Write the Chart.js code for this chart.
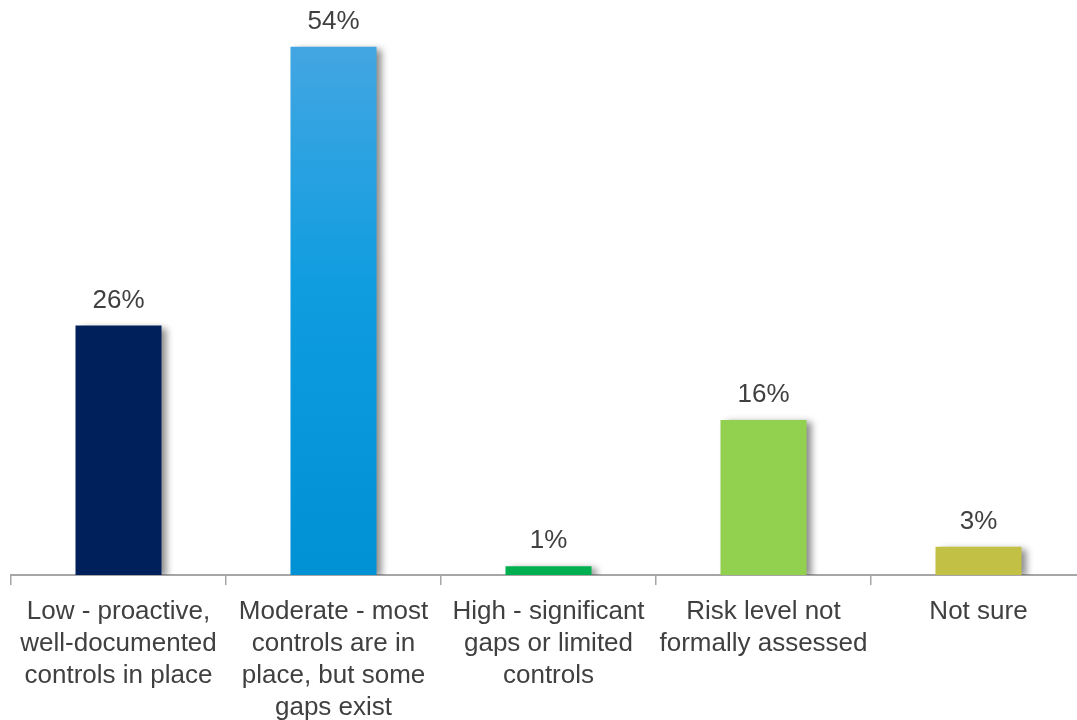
<!DOCTYPE html>
<html>
<head>
<meta charset="utf-8">
<script src="https://cdn.jsdelivr.net/npm/chart.js@4.4.0/dist/chart.umd.min.js"></script>
<style>
  html, body { margin: 0; padding: 0; background: #fff; overflow: hidden; }
  #wrap { width: 1086px; height: 720px; }
</style>
</head>
<body>
<div id="wrap"><canvas id="chart" width="1086" height="720"></canvas></div>
<script>
// Datos del gráfico
const categories = [
    ['Low - proactive,', 'well-documented', 'controls in place'],
    ['Moderate - most', 'controls are in', 'place, but some', 'gaps exist'],
    ['High - significant', 'gaps or limited', 'controls'],
    ['Risk level not', 'formally assessed'],
    ['Not sure']
];
const values = [25.6, 54.2, 0.9, 15.9, 2.9];
const valueLabels = ['26%', '54%', '1%', '16%', '3%'];
const barColors = ['#00205b', 'gradient', '#00b050', '#92d050', '#c3c046'];

const FONT = '"Liberation Sans", Arial, sans-serif';
const ctx = document.getElementById('chart').getContext('2d');

// Sombra detrás de las barras
const shadowPlugin = {
    id: 'barShadow',
    beforeDatasetsDraw(chart) {
        const c = chart.ctx;
        c.save();
        c.shadowColor = 'rgba(0,0,0,0.45)';
        c.shadowBlur = 7;
        c.shadowOffsetX = 5;
        c.shadowOffsetY = 2;
    },
    afterDatasetsDraw(chart) {
        chart.ctx.restore();
    }
};

// Etiquetas de valor encima de cada barra
const valueLabelPlugin = {
    id: 'valueLabels',
    afterDraw(chart) {
        const c = chart.ctx;
        const meta = chart.getDatasetMeta(0);
        c.save();
        c.font = '26px ' + FONT;
        c.fillStyle = '#404040';
        c.textAlign = 'center';
        c.textBaseline = 'alphabetic';
        meta.data.forEach((bar, i) => {
            c.fillText(valueLabels[i], bar.x, bar.y - 18);
        });
        c.restore();
    }
};

function barColor(context) {
    const i = context.dataIndex;
    if (barColors[i] !== 'gradient') return barColors[i];
    const area = context.chart.chartArea;
    if (!area) return '#0f9de0';
    const top = context.chart.scales.y.getPixelForValue(values[i]);
    const g = context.chart.ctx.createLinearGradient(0, top, 0, area.bottom);
    g.addColorStop(0, '#43a6e2');
    g.addColorStop(0.45, '#0f9de0');
    g.addColorStop(1, '#0090d4');
    return g;
}

new Chart(ctx, {
    type: 'bar',
    data: {
        labels: categories,
        datasets: [{
            data: values,
            backgroundColor: barColor,
            borderWidth: 0,
            barPercentage: 0.4,
            categoryPercentage: 1.0
        }]
    },
    options: {
        responsive: false,
        animation: false,
        layout: { padding: { left: 11, right: 0, top: 0, bottom: 0 } },
        plugins: {
            legend: { display: false },
            tooltip: { enabled: false }
        },
        scales: {
            x: {
                afterFit(scale) { scale.height = 145; },
                grid: {
                    display: true,
                    offset: true,
                    drawOnChartArea: false,
                    drawTicks: true,
                    tickLength: 10,
                    color: '#a6a6a6',
                    lineWidth: 1.5
                },
                border: { display: true, color: '#a6a6a6', width: 2 },
                ticks: {
                    color: '#404040',
                    font: { family: FONT, size: 26, lineHeight: 1.23 },
                    padding: 11,
                    maxRotation: 0,
                    autoSkip: false
                }
            },
            y: {
                display: false,
                min: 0,
                max: 59
            }
        }
    },
    plugins: [shadowPlugin, valueLabelPlugin]
});
</script>
</body>
</html>
